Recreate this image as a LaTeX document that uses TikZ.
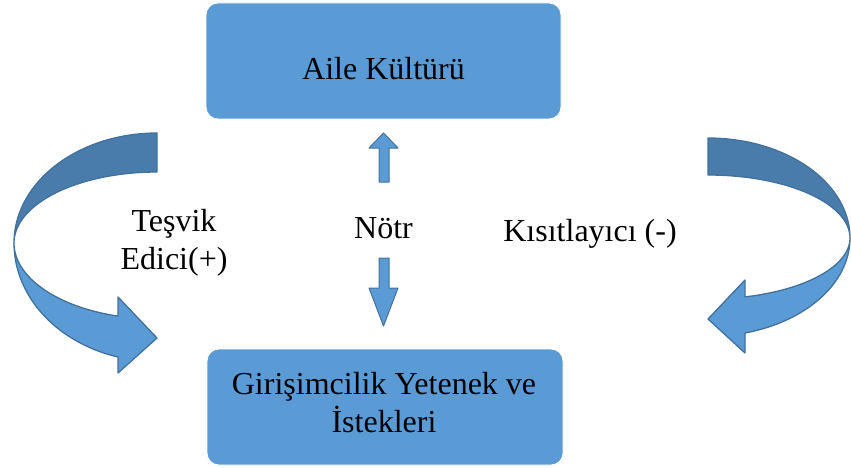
\documentclass[tikz,border=0pt]{standalone}
\usepackage{fontspec}
\setmainfont{Liberation Serif}
\definecolor{boxblue}{HTML}{5B9BD5}
\definecolor{darkblue}{HTML}{497CAA}
\definecolor{edgeblue}{HTML}{41719C}
\tikzset{
  boxshape/.style={fill=boxblue, draw=white, line width=0.8pt, rounded corners=12pt},
  lbl/.style={font=\fontsize{32}{38}\selectfont, inner sep=0pt, align=center},
  bandlight/.style={fill=boxblue, draw=edgeblue, line width=1.3pt, line join=round},
  banddark/.style={fill=darkblue, draw=edgeblue, line width=1.3pt, line join=round},
}
\begin{document}
\begin{tikzpicture}[x=1pt,y=-1pt]
\useasboundingbox (0,0) rectangle (851,468);
% boxes
\node[boxshape, minimum width=355pt, minimum height=116pt, inner sep=0pt] (top) at (383.5,61) {};
\node[boxshape, minimum width=356pt, minimum height=116pt, inner sep=0pt] (bottom) at (385,407) {};
\node[lbl, anchor=base] (toptext) at (383.5,80) {Aile Kültürü};
\node[lbl, anchor=base] (bottext) at (384,432) {Girişimcilik Yetenek ve\\İstekleri};
% left curved arrow
\filldraw[banddark] (157,133) -- plot[domain=270:180, samples=50, variable=\t] ({157+143*cos(\t)},{243+110*sin(\t)})
  -- plot[domain=180:270, samples=50, variable=\t] ({157+143*cos(\t)},{243+71*sin(\t)}) -- cycle;
\coordinate (lbarbA) at (118,373);
\coordinate (ltip) at (157,338);
\coordinate (lbarbB) at (118,297);
\filldraw[bandlight] plot[domain=180:105.8, samples=50, variable=\t] ({157+143*cos(\t)},{243+118.5*sin(\t)})
  -- (lbarbA) -- (ltip) -- (lbarbB)
  -- plot[domain=105.8:180, samples=50, variable=\t] ({157+143*cos(\t)},{243+76*sin(\t)}) -- cycle;
% right curved arrow
\filldraw[banddark] (708,138) -- plot[domain=270:360, samples=50, variable=\t] ({708+142*cos(\t)},{238+100*sin(\t)})
  -- plot[domain=360:270, samples=50, variable=\t] ({708+142*cos(\t)},{238+63*sin(\t)}) -- cycle;
\coordinate (rbarbA) at (745,353);
\coordinate (rtip) at (708,319);
\coordinate (rbarbB) at (745,280);
\filldraw[bandlight] plot[domain=0:74.9, samples=50, variable=\t] ({708+142*cos(\t)},{238+98.4*sin(\t)})
  -- (rbarbA) -- (rtip) -- (rbarbB)
  -- plot[domain=74.9:0, samples=50, variable=\t] ({708+142*cos(\t)},{238+61*sin(\t)}) -- cycle;
% small up and down arrows
\filldraw[bandlight, line width=1pt] (379,182) -- (379,148) -- (369,148) -- (383.5,133) -- (398,148) -- (389,148) -- (389,182) -- cycle;
\filldraw[bandlight, line width=1pt] (379,258) -- (379,288) -- (369,288) -- (383.5,326) -- (398,288) -- (389,288) -- (389,258) -- cycle;
% labels
\node[lbl, anchor=base] (notr) at (383.5,238) {Nötr};
\node[lbl, anchor=base] (tesvik) at (174,269) {Teşvik\\Edici(+)};
\node[lbl, anchor=base] (kisit) at (590,241) {Kısıtlayıcı (-)};
\end{tikzpicture}
\end{document}
